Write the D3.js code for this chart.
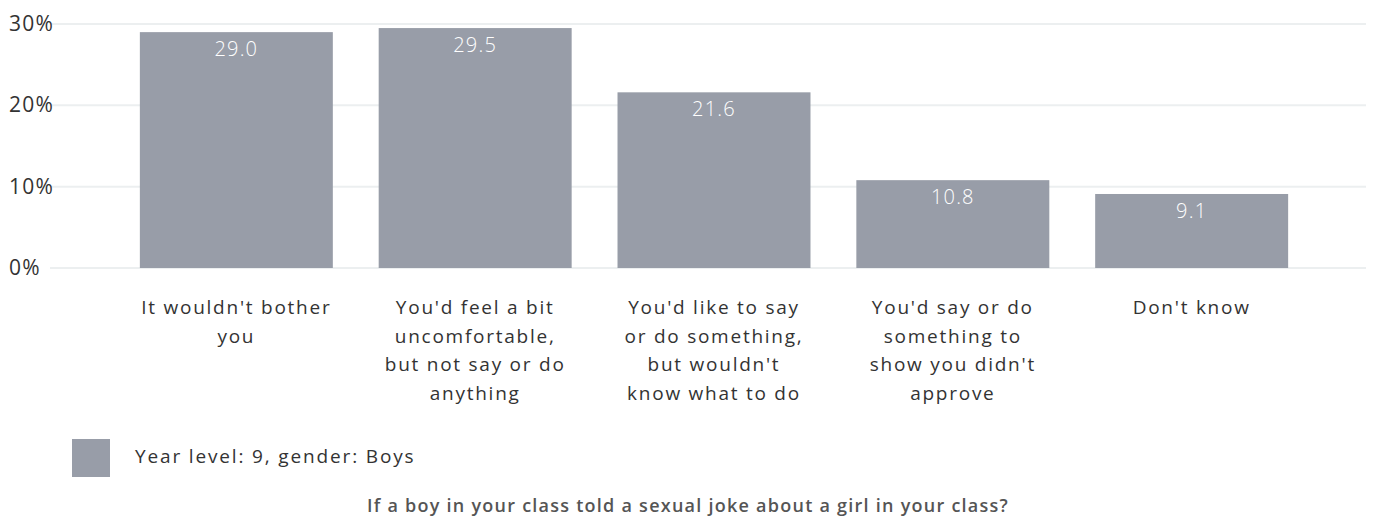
<!DOCTYPE html>
<html>
<head>
<meta charset="utf-8">
<script src="https://cdn.jsdelivr.net/npm/d3@7"></script>
<style>
  html, body { margin: 0; padding: 0; background: #fff; }
  svg { display: block; font-family: "Open Sans", "Noto Sans", sans-serif; }
</style>
</head>
<body>
<svg id="chart" width="1376" height="525"></svg>
<script>
// Responses of Year 9 boys, percent of respondents
const categories = [
  "It wouldn't bother you",
  "You'd feel a bit uncomfortable, but not say or do anything",
  "You'd like to say or do something, but wouldn't know what to do",
  "You'd say or do something to show you didn't approve",
  "Don't know"
];
const categoryLines = [
  ["It wouldn't bother", "you"],
  ["You'd feel a bit", "uncomfortable,", "but not say or do", "anything"],
  ["You'd like to say", "or do something,", "but wouldn't", "know what to do"],
  ["You'd say or do", "something to", "show you didn't", "approve"],
  ["Don't know"]
];
const values = [29.0, 29.5, 21.6, 10.8, 9.1];
const yTicks = [0, 10, 20, 30];
const seriesName = "Year level: 9, gender: Boys";
const title = "If a boy in your class told a sexual joke about a girl in your class?";

const barColor = "#989da8";
const svg = d3.select("#chart");

const x = d3.scaleBand()
  .domain(categories)
  .range([94, 1334])
  .paddingInner(0.192)
  .paddingOuter(0.192);

const y = d3.scaleLinear().domain([0, 30]).range([268, 24]);

// Gridlines
svg.append("g")
  .selectAll("line")
  .data(yTicks)
  .join("line")
  .attr("x1", 50)
  .attr("x2", 1366)
  .attr("y1", d => y(d))
  .attr("y2", d => y(d))
  .attr("stroke", "#eceff0")
  .attr("stroke-width", 2);

// Y tick labels
svg.append("g")
  .selectAll("text")
  .data(yTicks)
  .join("text")
  .attr("x", 9)
  .attr("y", d => y(d) + 7)
  .attr("font-size", 21)
  .attr("letter-spacing", 1.2)
  .attr("fill", "#333")
  .text(d => d + "%");

// Bars
svg.append("g")
  .selectAll("rect")
  .data(values)
  .join("rect")
  .attr("x", (d, i) => x(categories[i]))
  .attr("width", x.bandwidth())
  .attr("y", d => y(d))
  .attr("height", d => y(0) - y(d))
  .attr("fill", barColor);

// Value labels inside bars
svg.append("g")
  .selectAll("text")
  .data(values)
  .join("text")
  .attr("x", (d, i) => x(categories[i]) + x.bandwidth() / 2)
  .attr("y", d => y(d) + 24)
  .attr("text-anchor", "middle")
  .attr("font-size", 20)
  .attr("font-weight", 300)
  .attr("letter-spacing", 1.2)
  .attr("fill", "#fff")
  .text(d => d.toFixed(1));

// Category labels
const cat = svg.append("g")
  .selectAll("text")
  .data(categories)
  .join("text")
  .attr("text-anchor", "middle")
  .attr("font-size", 19)
  .attr("letter-spacing", 1.75)
  .attr("fill", "#333")
  .attr("transform", d => `translate(${x(d) + x.bandwidth() / 2},314)`);
cat.selectAll("tspan")
  .data((d, i) => categoryLines[i])
  .join("tspan")
  .attr("x", 0)
  .attr("dy", (d, i) => i === 0 ? 0 : 28.7)
  .text(d => d);

// Legend
svg.append("rect")
  .attr("x", 72).attr("y", 439)
  .attr("width", 38).attr("height", 38)
  .attr("fill", barColor);
svg.append("text")
  .attr("x", 135).attr("y", 463)
  .attr("font-size", 19)
  .attr("letter-spacing", 1.85)
  .attr("fill", "#333")
  .text(seriesName);

// Title
svg.append("text")
  .attr("x", 688).attr("y", 512)
  .attr("text-anchor", "middle")
  .attr("font-size", 18)
  .attr("font-weight", 600)
  .attr("letter-spacing", 1.25)
  .attr("fill", "#555")
  .text(title);
</script>
</body>
</html>
